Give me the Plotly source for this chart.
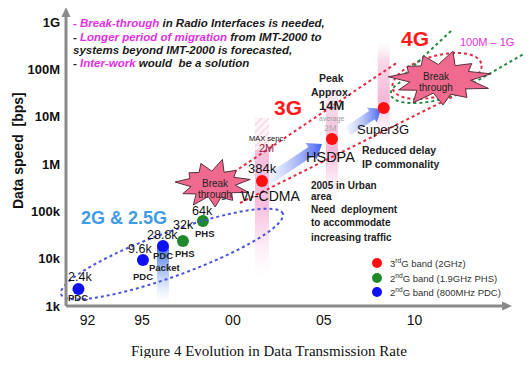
import numpy as np
import plotly.graph_objects as go

# ---------------- data ----------------
pdc_years = [1991.5, 1995.05, 1996.15]
pdc_speeds = [2300, 9400, 18600]
pdc_labels = ["2.4k", "9.6k", "28.8k"]

phs_years = [1997.25, 1998.35]
phs_speeds = [23700, 62700]
phs_labels = ["32k", "64k"]

g3_years = [2001.6, 2005.45, 2008.3]
g3_speeds = [440000, 3.4e6, 15.4e6]
g3_names = ["W-CDMA", "HSDPA", "Super3G"]

x_tickvals = [1992, 1995, 2000, 2005, 2010]
x_ticktext = ["92", "95", "00", "05", "10"]
y_tickvals = [1e3, 1e4, 1e5, 1e6, 1e7, 1e8, 1e9]
y_ticktext = ["1k", "10k", "100k", "1M", "10M", "100M", "1G"]

legend_labels = ["3<sup>rd</sup>G band (2GHz)",
                 "2<sup>nd</sup>G band (1.9GHz PHS)",
                 "2<sup>nd</sup>G band (800MHz PDC)"]

# ---------------- geometry / style ----------------
# page body has an 8px margin, so the figure is 16px smaller than the window
OFF = 8
WIDTH, HEIGHT = 531 - 2 * OFF, 366 - 2 * OFF
L, R, T, B = 66, 510, 10, 306          # plot area in window pixels
X0, X1 = 1990.815, 2015.25
Y0, Y1 = 3.0, 9.26
SANS = "Arial, Liberation Sans, sans-serif"
SERIF = "Times New Roman, Liberation Serif, serif"
RED, GREEN, BLUE = "#ff1010", "#1f8a2a", "#1010f5"
MAGENTA = "#e22fe2"
AXIS_GREY = "#8a8a8a"


def paper(px, py):
    return (px - L) / (R - L), (B - py) / (B - T)


def to_data(px, py):
    yr = X0 + (px - L) / (R - L) * (X1 - X0)
    val = 10 ** (Y0 + (B - py) / (B - T) * (Y1 - Y0))
    return yr, val


PX_PER_YEAR = (R - L) / (X1 - X0)

ann = []
shapes = []


def txt(px, py, text, size, color="#111", bold=False, italic=False,
        anchor="center", family=SANS, angle=0):
    x, y = paper(px, py)
    if bold:
        text = f"<b>{text}</b>"
    if italic:
        text = f"<i>{text}</i>"
    ann.append(dict(x=x, y=y, xref="paper", yref="paper", text=text,
                    showarrow=False, xanchor=anchor, yanchor="middle",
                    textangle=angle,
                    font=dict(size=size, color=color, family=family)))


def ptxt(year, val, text, size, dx=0, dy=0, color="#111", bold=False):
    if bold:
        text = f"<b>{text}</b>"
    ann.append(dict(x=year, y=np.log10(val), xref="x", yref="y", text=text,
                    showarrow=False, xshift=dx, yshift=dy,
                    xanchor="center", yanchor="middle",
                    font=dict(size=size, color=color, family=SANS)))


def path_from_px(points, close=True):
    s = ""
    for i, (px, py) in enumerate(points):
        x, y = paper(px, py)
        s += ("M" if i == 0 else "L") + f"{x:.5f},{y:.5f} "
    return s + ("Z" if close else "")


def ellipse_pts(cx, cy, a, b, ang, n=90):
    t = np.linspace(0, 2 * np.pi, n)
    th = np.radians(ang)
    xs = cx + a * np.cos(t) * np.cos(th) - b * np.sin(t) * np.sin(th)
    ys = cy - (a * np.cos(t) * np.sin(th) + b * np.sin(t) * np.cos(th))
    return list(zip(xs, ys))


def star_pts(cx, cy, rx, ry, n, inner, jit, rot=0.2):
    pts = []
    for i in range(2 * n):
        a = rot + i * np.pi / n
        r = (1.0 if i % 2 == 0 else inner) * jit[i % len(jit)]
        pts.append((cx + rx * r * np.cos(a), cy - ry * r * np.sin(a)))
    return pts


fig = go.Figure()


# ---------------- gradient bars behind the points ----------------
def rect_trace(year, half_px, top_py, bot_py, cs, pattern=None):
    hw = half_px / PX_PER_YEAR
    _, vt = to_data(0, top_py)
    _, vb = to_data(0, bot_py)
    xs = [year - hw, year + hw, year + hw, year - hw, year - hw]
    ys = [vb, vb, vt, vt, vb]
    kw = dict(x=xs, y=ys, mode="lines", fill="toself", line=dict(width=0),
              hoverinfo="skip", showlegend=False)
    if pattern:
        kw["fillpattern"] = pattern
        kw["fillcolor"] = "rgba(255,255,255,0)"
    else:
        kw["fillgradient"] = dict(type="vertical", colorscale=cs)
    fig.add_trace(go.Scatter(**kw))


pink_cs_w = [[0, "rgba(250,210,235,0)"], [0.55, "rgba(244,170,210,0.75)"],
             [1, "rgba(244,175,212,0.8)"]]
rect_trace(g3_years[0], 7, 150, 275, pink_cs_w)
rect_trace(g3_years[0], 7, 118, 150, None,
           pattern=dict(shape="/", fgcolor="rgba(240,160,200,0.8)",
                        bgcolor="rgba(255,240,248,0.6)", size=5, solidity=0.3))
pink_cs_h = [[0, "rgba(250,210,235,0)"], [0.45, "rgba(243,165,205,0.8)"],
             [0.75, "rgba(245,185,215,0.7)"], [1, "rgba(250,220,235,0.4)"]]
rect_trace(g3_years[1], 6, 90, 200, pink_cs_h)
pink_cs_s = [[0, "rgba(250,210,235,0)"], [0.4, "rgba(243,165,205,0.8)"],
             [0.8, "rgba(246,190,220,0.6)"], [1, "rgba(252,230,240,0)"]]
rect_trace(g3_years[2], 6, 40, 140, pink_cs_s)
blue_cs = [[0, "rgba(190,210,250,0)"], [0.6, "rgba(120,160,240,0.7)"],
           [1, "rgba(60,110,230,0.95)"]]
rect_trace(pdc_years[2], 6, 247, 302, blue_cs)


# ---------------- blue progression arrows ----------------
def arrow_trace(tail, tip, body=5, head=10, head_len=13):
    (x0, y0), (x1, y1) = tail, tip
    d = np.array([x1 - x0, y1 - y0], float)
    u = d / np.hypot(*d)
    nrm = np.array([-u[1], u[0]])
    base = np.array([x1, y1]) - u * head_len
    p0 = np.array([x0, y0])
    pts = [p0 + nrm * body, base + nrm * body, base + nrm * head,
           np.array([x1, y1]), base - nrm * head, base - nrm * body,
           p0 - nrm * body, p0 + nrm * body]
    dd = [to_data(px, py) for px, py in pts]
    fig.add_trace(go.Scatter(
        x=[p[0] for p in dd], y=[p[1] for p in dd], mode="lines",
        fill="toself", line=dict(width=0), hoverinfo="skip", showlegend=False,
        fillgradient=dict(type="horizontal",
                          colorscale=[[0, "rgba(215,225,255,0.3)"],
                                      [1, "rgba(60,90,240,0.95)"]])))


arrow_trace((268, 180), (322, 144))
arrow_trace((348, 131), (381, 109), body=5, head=9, head_len=11)

# ---------------- points ----------------
fig.add_trace(go.Scatter(x=pdc_years, y=pdc_speeds, mode="markers",
                         marker=dict(size=12, color=BLUE), showlegend=False,
                         hoverinfo="skip"))
fig.add_trace(go.Scatter(x=phs_years, y=phs_speeds, mode="markers",
                         marker=dict(size=12, color=GREEN), showlegend=False,
                         hoverinfo="skip"))
fig.add_trace(go.Scatter(x=g3_years, y=g3_speeds, mode="markers",
                         marker=dict(size=12, color=RED), showlegend=False,
                         hoverinfo="skip"))


# ---------------- dotted regions ----------------
def dotted(points, color, close=True):
    shapes.append(dict(type="path", xref="paper", yref="paper",
                       path=path_from_px(points, close),
                       line=dict(color=color, width=2, dash="dot"),
                       layer="above"))


def dline(p0, p1, color):
    x0, y0 = paper(*p0)
    x1, y1 = paper(*p1)
    shapes.append(dict(type="line", xref="paper", yref="paper", x0=x0, y0=y0,
                       x1=x1, y1=y1, line=dict(color=color, width=2, dash="dot"),
                       layer="above"))


BLUE_DOT = "#4a55dd"
RED_DOT = "#e8283c"
GREEN_DOT = "#238a45"
dotted(ellipse_pts(172, 254, 118, 22, 20), BLUE_DOT)
dline((234, 172), (398, 62), RED_DOT)
dline((240, 203), (462, 92), RED_DOT)
dotted(ellipse_pts(437, 76, 46, 20, 16), RED_DOT)
dline((405, 74), (452, 30), GREEN_DOT)
dline((468, 86), (527, 52), GREEN_DOT)
dotted(ellipse_pts(432, 86, 42, 15, 12), GREEN_DOT)

# ---------------- explosion stars ----------------
jit = [1.0, 1.0, 0.85, 0.95, 1.1, 0.9, 0.95, 1.0, 0.8, 1.05, 1.0, 0.95,
       0.9, 1.0, 1.05, 0.9, 1.0, 1.0, 0.88, 1.0, 1.0, 0.95]
for cx, cy, rx, ry in [(213, 184, 38, 23), (440, 79, 52, 26)]:
    shapes.append(dict(type="path", xref="paper", yref="paper",
                       path=path_from_px(star_pts(cx, cy, rx, ry, 11, 0.62, jit)),
                       fillcolor="#ef6a8e", line=dict(color="#5a3040", width=1),
                       layer="above"))
txt(215, 183, "Break", 10, "#222")
txt(215, 194, "through", 10, "#222")
txt(436, 77, "Break", 10, "#222")
txt(436, 88, "through", 10, "#222")

# ---------------- axes with arrow heads ----------------
for p0, p1 in [((66, 306), (66, 14)), ((66, 306), (504, 306))]:
    x0, y0 = paper(*p0)
    x1, y1 = paper(*p1)
    shapes.append(dict(type="line", xref="paper", yref="paper", x0=x0, y0=y0,
                       x1=x1, y1=y1, line=dict(color=AXIS_GREY, width=3),
                       layer="above"))
for tri in [[(61.5, 17), (70.5, 17), (66, 7)], [(502, 301.5), (502, 310.5), (512, 306)]]:
    shapes.append(dict(type="path", xref="paper", yref="paper",
                       path=path_from_px(tri), fillcolor=AXIS_GREY,
                       line=dict(width=0), layer="above"))

# ---------------- point labels ----------------
pdc_dy = [(2, 12), (-3, 11), (0, 11)]
for yr, v, lab, (dx, dy) in zip(pdc_years, pdc_speeds, pdc_labels, pdc_dy):
    ptxt(yr, v, lab, 12.5, dx, dy)
ptxt(pdc_years[0], pdc_speeds[0], "PDC", 9.5, 0, -9, "#222", True)
ptxt(pdc_years[1], pdc_speeds[1], "PDC", 9.5, 0, -17, "#222", True)
ptxt(pdc_years[2], pdc_speeds[2], "PDC", 9.5, 0, -10, "#222", True)
ptxt(pdc_years[2], pdc_speeds[2], "Packet", 9.5, 2, -22, "#222", True)
for yr, v, lab, (dx, dy) in zip(phs_years, phs_speeds, phs_labels, [(1, 16), (0, 10)]):
    ptxt(yr, v, lab, 12.5, dx, dy)
for yr, v in zip(phs_years, phs_speeds):
    ptxt(yr, v, "PHS", 9.5, 2, -12, "#222", True)

ptxt(g3_years[0], g3_speeds[0], "384k", 13, 1, 13)
ptxt(g3_years[0], g3_speeds[0], g3_names[0], 14, 9, -15)
ptxt(g3_years[0], g3_speeds[0], "MAX sepc.", 7.5, 5, 43)
ptxt(g3_years[0], g3_speeds[0], "2M", 11, 5, 33, "#a02040")
ptxt(g3_years[1], g3_speeds[1], g3_names[1], 14.5, -1, -18)
ptxt(g3_years[1], g3_speeds[1], "average", 7, 0, 20, "#999")
ptxt(g3_years[1], g3_speeds[1], "2M", 9, -1, 11, "#aaa")
ptxt(g3_years[2], g3_speeds[2], g3_names[2], 13, -1, -21)

txt(331, 78, "Peak", 10.5, "#222", bold=True)
txt(331, 92, "Approx.", 10.5, "#222", bold=True)
txt(331, 105, "14M", 13, "#222", bold=True)

# ---------------- free texts ----------------
txt(288, 107, "3G", 21, "#ff1a1a", bold=True)
txt(415, 38, "4G", 21, "#ff1a1a", bold=True)
txt(487, 42, "100M – 1G", 11, MAGENTA)
txt(124, 218, "2G &amp; 2.5G", 18, "#3d9be9", bold=True)

txt(360, 150, "Reduced delay", 10.5, "#222", bold=True, anchor="left")
txt(360, 164, "IP commonality", 10.5, "#222", bold=True, anchor="left")
for py, s in [(185, "2005 in Urban"), (196, "area"), (209, "Need  deployment"),
              (223, "to accommodate"), (237, "increasing traffic")]:
    txt(309, py, s, 10, "#222", bold=True, anchor="left")

mg = lambda s: f"<span style='color:{MAGENTA}'>{s}</span>"
box = [(23, mg("- Break-through") + " in Radio Interfaces is needed,"),
       (37, "- " + mg("Longer period of migration") + " from IMT-2000 to"),
       (50, "systems beyond IMT-2000 is forecasted,"),
       (63, "- " + mg("Inter-work") + " would  be a solution")]
for py, s in box:
    txt(71, py, s, 11.5, "#1a1a1a", bold=True, italic=True, anchor="left")

# legend (manual)
for py, col, lab in zip([263, 278, 292], [RED, GREEN, BLUE], legend_labels):
    x0, y0 = paper(372, py - 5)
    x1, y1 = paper(382, py + 5)
    shapes.append(dict(type="circle", xref="paper", yref="paper", x0=x0,
                       y0=y1, x1=x1, y1=y0, fillcolor=col,
                       line=dict(width=0), layer="above"))
    txt(388, py, lab, 9.5, "#333", anchor="left")

# axis title and caption
txt(18, 151, "Data speed  [bps]", 14, "#111", bold=True, angle=-90)
txt(269, 351, "Figure 4 Evolution in Data Transmission Rate", 15, "#111",
    family=SERIF)

fig.update_layout(
    width=WIDTH, height=HEIGHT,
    margin=dict(l=L - OFF, r=(531 - OFF) - R, t=T - OFF, b=(366 - OFF) - B),
    paper_bgcolor="white", plot_bgcolor="white",
    showlegend=False,
    annotations=ann, shapes=shapes,
    xaxis=dict(range=[X0, X1], tickvals=x_tickvals, ticktext=x_ticktext,
               showgrid=False, zeroline=False, showline=False, ticks="",
               tickfont=dict(size=14, color="#111", family=SANS),
               ticklabelstandoff=4),
    yaxis=dict(type="log", range=[Y0, Y1], tickvals=y_tickvals,
               ticktext=y_ticktext, showgrid=False, zeroline=False,
               showline=False, ticks="",
               tickfont=dict(size=13, color="#111", family=SANS, weight="bold"),
               ticklabelstandoff=5),
)

fig.write_html("out.html")
